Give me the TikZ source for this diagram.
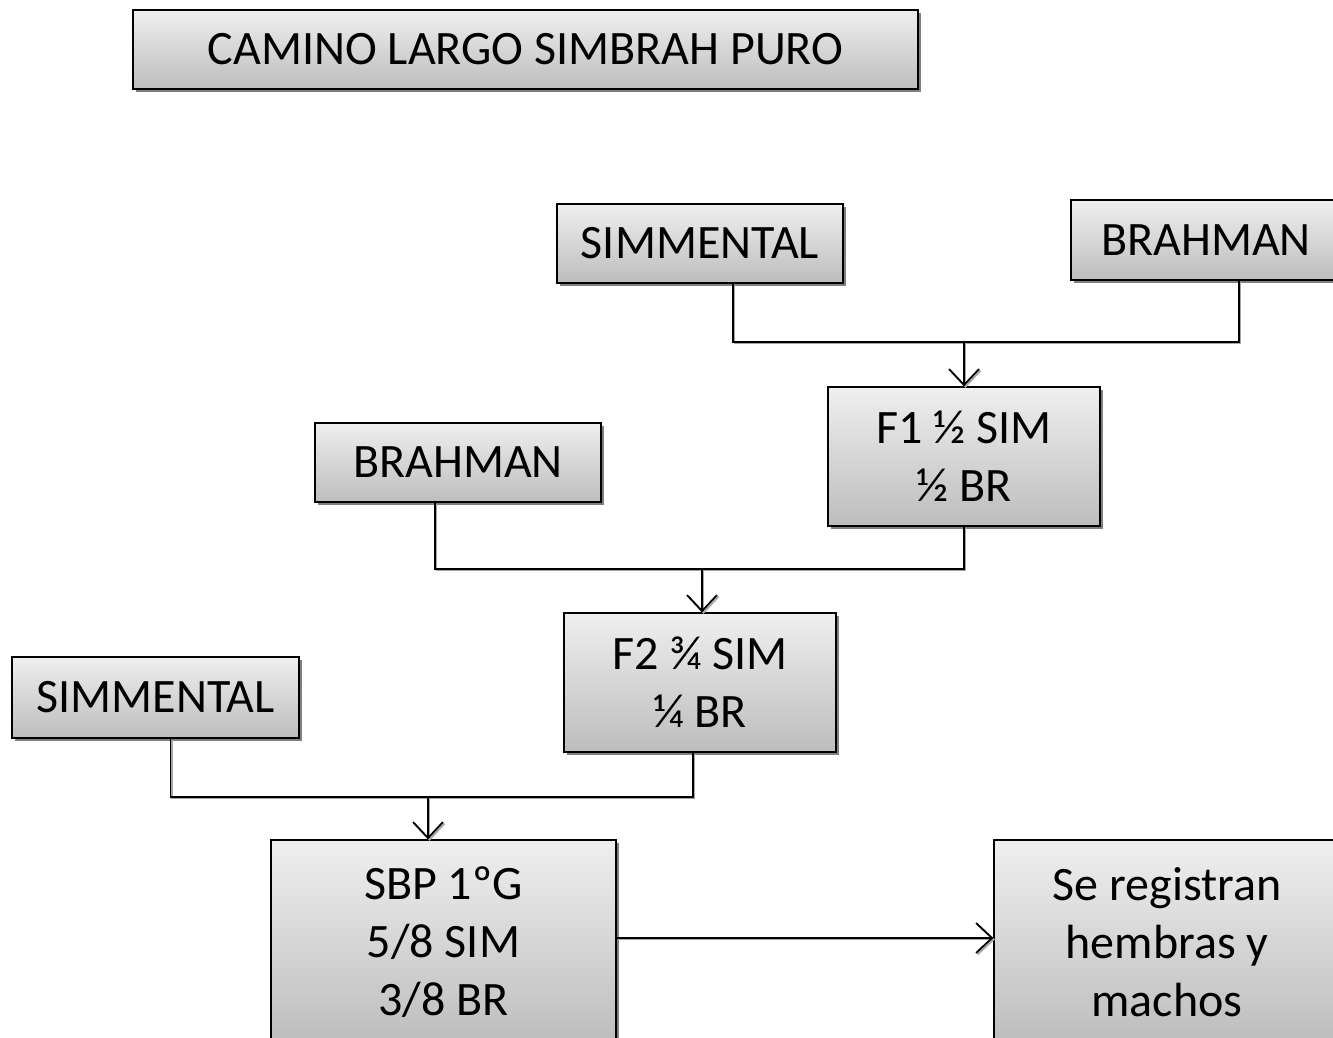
\documentclass[tikz,border=0pt]{standalone}
\usepackage{fontspec}
\setmainfont{Carlito}
\usetikzlibrary{shadows,arrows.meta}
\definecolor{boxtop}{HTML}{EFEFEF}
\definecolor{boxbot}{HTML}{BDBDBD}
\begin{document}
\begin{tikzpicture}[x=1pt,y=-1pt,
 box/.style={draw=black, line width=1.3pt, top color=boxtop, bottom color=boxbot,
   drop shadow={shadow xshift=3pt,shadow yshift=-3pt,fill=black!50,opacity=1},
   inner sep=0pt, align=center, font=\fontsize{48}{58}\selectfont},
 conn/.style={line width=1.4pt, preaction={draw=black!35, line width=1.6pt, transform canvas={shift={(1.5pt,-1.5pt)}}}},
 arr/.style={conn, -{Straight Barb[length=16pt,width=30pt,line width=1.8pt]}}
]
\clip (0,0) rectangle (1333,1037);
\fill[white] (0,0) rectangle (1333,1037);

\node[box, minimum width=785, minimum height=79] (title) at (525.5,49.5) {CAMINO LARGO SIMBRAH PURO};
\node[box, minimum width=286, minimum height=79] (simA) at (700,243.5) {SIMMENTAL};
\node[box, minimum width=270, minimum height=80] (brA) at (1206,240) {BRAHMAN};
\node[box, minimum width=272, minimum height=139] (f1) at (964,456.5) {F1 ½ SIM\\½ BR};
\node[box, minimum width=286, minimum height=79] (brB) at (458,462.5) {BRAHMAN};
\node[box, minimum width=272, minimum height=139] (f2) at (700,682.5) {F2 ¾ SIM\\¼ BR};
\node[box, minimum width=287, minimum height=81] (simB) at (155.5,697.5) {SIMMENTAL};
\node[box, minimum width=345, minimum height=204] (sbp) at (443.5,942) {SBP 1ºG\\5/8 SIM\\3/8 BR};
\node[box, minimum width=346, minimum height=204] (reg) at (1167,942) {Se registran\\hembras y\\machos};

\coordinate (j1) at (964,342);
\coordinate (j2) at (702,569);
\coordinate (j3) at (428,797);

\draw[conn] ([xshift=33pt]simA.south) |- (j1) -| ([xshift=33pt]brA.south);
\draw[arr] (j1) -- (f1.north);
\draw[conn] ([xshift=-23pt]brB.south) |- (j2) -| (f1.south);
\draw[arr] (j2) -- ([xshift=2pt]f2.north);
\draw[conn] ([xshift=15pt]simB.south) |- (j3) -| ([xshift=-7pt]f2.south);
\draw[arr] (j3) -- ([xshift=-15.5pt]sbp.north);
\draw[arr] ([yshift=4pt]sbp.east) -- ([yshift=4pt]reg.west);
\end{tikzpicture}
\end{document}
